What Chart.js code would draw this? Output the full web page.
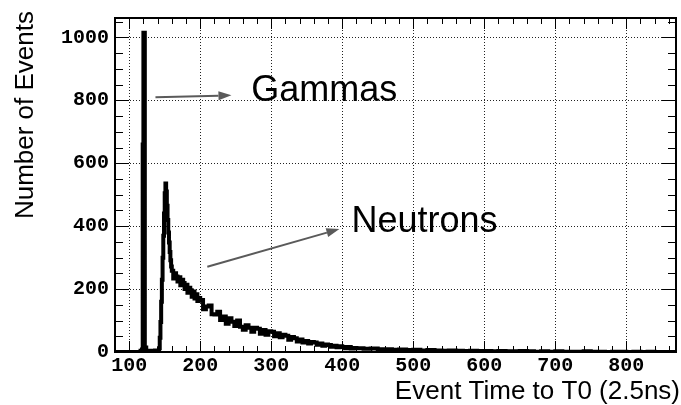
<!DOCTYPE html>
<html>
<head>
<meta charset="utf-8">
<script src="https://cdn.jsdelivr.net/npm/chart.js@4.4.0/dist/chart.umd.min.js"></script>
<style>
  html, body { margin: 0; padding: 0; background: #fff; }
  #wrap { width: 681px; height: 405px; }
</style>
</head>
<body>
<div id="wrap"><canvas id="grafico" width="681" height="405"></canvas></div>
<script>
// left edge of each histogram bin (event time to T0, 2.5 ns units)
const binStart = [
  80, 116, 118, 119, 120, 122, 124, 130, 136,
  142, 143, 144, 145, 146, 147, 148, 149, 150, 151, 152, 153, 154, 155, 156, 157, 158, 159,
  160, 162, 164, 166, 168, 170, 172, 174, 176, 178, 180, 182, 184, 186, 188, 190, 192, 194, 196, 198,
  200, 204, 208, 212, 216, 220, 224, 228, 232, 236, 240, 244, 248, 252, 256, 260, 264, 268, 272, 276,
  280, 284, 288, 292, 296, 300, 304, 308, 312, 316, 320, 324, 328, 332, 336, 340, 344, 348, 352, 356,
  360, 364, 368, 372, 376, 380, 384, 388, 392, 396, 400, 404, 408, 412, 416,
  420, 430, 440, 450, 460, 470, 480, 490, 500, 510, 520, 530, 540, 550, 560, 570, 580, 590, 600, 610,
  620, 630, 640, 650, 660, 670, 680, 690, 700, 710, 720, 730, 740, 750, 760, 770, 780, 790, 800, 810,
  820, 830, 840, 850, 860, 870
];
// number of events in each bin
const counts = [
  0, 4, 8, 660, 1015, 14, 4, 3, 5,
  12, 45, 95, 160, 230, 300, 370, 440, 505, 536, 510, 465, 420, 380, 348, 318, 292, 272,
  258, 234, 250, 240, 224, 238, 212, 230, 219, 200, 214, 188, 204, 196, 176, 192, 170, 184, 162, 172,
  165, 136, 145, 148, 120, 119, 128, 102, 113, 90, 107, 96, 83, 100, 80, 71, 85, 77, 64, 77,
  74, 58, 70, 55, 66, 64, 50, 60, 47, 55, 52, 39, 48, 44, 33, 40, 30, 35, 27, 32,
  30, 23, 27, 20, 24, 22, 17, 20, 15, 18, 16, 12, 16, 11, 13,
  12, 10, 11, 9, 9, 7, 8, 6, 7, 5, 6, 5, 4, 5, 4, 3, 4, 3, 3, 2,
  3, 2, 2, 3, 2, 1, 2, 1, 2, 1, 1, 1, 2, 1, 1, 0, 1, 1, 0, 1,
  0, 1, 0, 0, 0, 0
];

const xTicks = [100, 200, 300, 400, 500, 600, 700, 800];
const yTicks = [0, 200, 400, 600, 800, 1000];

const xTitle = "Event Time to T0 (2.5ns)";
const yTitle = "Number of Events";
const notes = ["Gammas", "Neutrons"];

const tickFont = { family: '"Liberation Mono", "Courier New", monospace', size: 20, weight: 'bold' };
const sans = '"Liberation Sans", Arial, sans-serif';

function arrow(ctx, x0, y0, x1, y1) {
  const ang = Math.atan2(y1 - y0, x1 - x0);
  const hl = 13, hw = 4.5;
  const bx = x1 - hl * Math.cos(ang), by = y1 - hl * Math.sin(ang);
  ctx.beginPath();
  ctx.moveTo(x0, y0);
  ctx.lineTo(bx, by);
  ctx.stroke();
  ctx.beginPath();
  ctx.moveTo(x1, y1);
  ctx.lineTo(bx + hw * Math.sin(ang), by - hw * Math.cos(ang));
  ctx.lineTo(bx - hw * Math.sin(ang), by + hw * Math.cos(ang));
  ctx.closePath();
  ctx.fill();
}

// frame, inward ticks, titles and the two labelled arrows
const framePlugin = {
  id: 'framePlugin',
  afterDraw(chart) {
    const { ctx, chartArea: a, scales: { x, y } } = chart;
    ctx.save();
    ctx.strokeStyle = '#000';
    ctx.lineWidth = 1;
    ctx.beginPath();
    for (let v = 80; v <= 870; v += 20) {
      const px = Math.round(x.getPixelForValue(v)) + 0.5;
      const len = v % 100 === 0 ? 11 : 6;
      ctx.moveTo(px, a.bottom); ctx.lineTo(px, a.bottom - len);
      ctx.moveTo(px, a.top); ctx.lineTo(px, a.top + len);
    }
    for (let v = 0; v <= 1050; v += 50) {
      const py = Math.round(y.getPixelForValue(v)) + 0.5;
      const len = v % 200 === 0 ? 14 : 8;
      ctx.moveTo(a.left, py); ctx.lineTo(a.left + len, py);
      ctx.moveTo(a.right, py); ctx.lineTo(a.right - len, py);
    }
    ctx.stroke();
    ctx.lineWidth = 2;
    ctx.strokeRect(a.left, a.top, a.right - a.left, a.bottom - a.top);

    // arrows (data coordinates)
    ctx.strokeStyle = '#5a5a5a';
    ctx.fillStyle = '#5a5a5a';
    ctx.lineWidth = 2;
    arrow(ctx, x.getPixelForValue(137), y.getPixelForValue(810),
               x.getPixelForValue(244), y.getPixelForValue(816));
    arrow(ctx, x.getPixelForValue(210), y.getPixelForValue(271),
               x.getPixelForValue(396), y.getPixelForValue(391));

    ctx.fillStyle = '#000';
    ctx.font = '36px ' + sans;
    ctx.textAlign = 'left';
    ctx.textBaseline = 'alphabetic';
    ctx.fillText(notes[0], x.getPixelForValue(272), y.getPixelForValue(798));
    ctx.fillText(notes[1], x.getPixelForValue(413), y.getPixelForValue(382));

    // axis titles
    ctx.font = '26px ' + sans;
    ctx.textAlign = 'right';
    ctx.fillText(xTitle, 680, 399);
    ctx.translate(33, 11);
    ctx.rotate(-Math.PI / 2);
    ctx.fillText(yTitle, 0, 0);
    ctx.restore();
  }
};

const ctx = document.getElementById('grafico').getContext('2d');
new Chart(ctx, {
  type: 'line',
  data: {
    datasets: [{
      data: binStart.map((b, i) => ({ x: b, y: counts[i] })),
      borderColor: '#000',
      borderWidth: 4,
      stepped: true,
      pointRadius: 0,
      fill: false
    }]
  },
  options: {
    responsive: false,
    animation: false,
    layout: { padding: { top: 7, right: 5, left: 0, bottom: 0 } },
    plugins: { legend: { display: false }, tooltip: { enabled: false } },
    scales: {
      x: {
        type: 'linear',
        min: 80,
        max: 870,
        afterBuildTicks: s => { s.ticks = xTicks.map(v => ({ value: v })); },
        afterFit: s => { s.height = 53; },
        grid: { color: '#222', lineWidth: 1, drawTicks: false },
        border: { display: false, dash: [1, 2] },
        ticks: { font: tickFont, color: '#000', padding: 2, maxRotation: 0, callback: v => String(v) }
      },
      y: {
        min: 0,
        max: 1062,
        afterBuildTicks: s => { s.ticks = yTicks.map(v => ({ value: v })); },
        afterFit: s => { s.width = 115; },
        grid: { color: '#222', lineWidth: 1, drawTicks: false },
        border: { display: false, dash: [1, 2] },
        ticks: { font: tickFont, color: '#000', padding: 6, callback: v => String(v) }
      }
    }
  },
  plugins: [framePlugin]
});
</script>
</body>
</html>
